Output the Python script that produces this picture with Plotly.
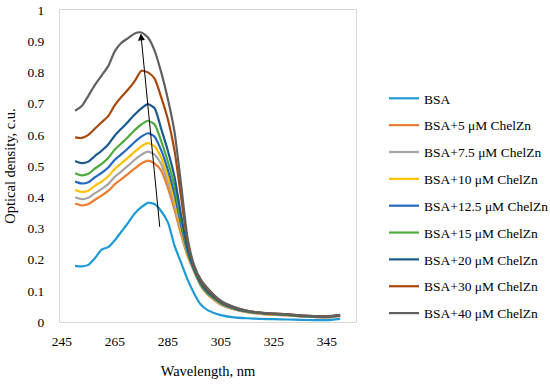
import plotly.graph_objects as go

wavelength = [250, 252.5, 255, 257.5, 260, 262.5, 265, 267.5, 270, 272.5, 275, 277.5, 280,
              282.5, 285, 287.5, 290, 292.5, 295, 297.5, 300, 305, 310, 315, 320, 325, 330,
              335, 340, 345, 350]

bsa = [0.180, 0.178, 0.183, 0.205, 0.232, 0.240, 0.262, 0.290, 0.318, 0.348, 0.368, 0.382, 0.378,
       0.355, 0.320, 0.245, 0.190, 0.135, 0.090, 0.055, 0.038, 0.022, 0.015, 0.012, 0.010, 0.009,
       0.008, 0.007, 0.006, 0.006, 0.010]
c5 = [0.380, 0.374, 0.378, 0.392, 0.405, 0.420, 0.442, 0.458, 0.475, 0.492, 0.508, 0.517, 0.508,
      0.485, 0.430, 0.360, 0.280, 0.210, 0.160, 0.115, 0.088, 0.055, 0.040, 0.031, 0.026, 0.023,
      0.021, 0.018, 0.016, 0.015, 0.019]
c7_5 = [0.400, 0.394, 0.398, 0.413, 0.426, 0.442, 0.466, 0.483, 0.501, 0.520, 0.536, 0.546, 0.536,
        0.506, 0.449, 0.377, 0.290, 0.214, 0.161, 0.117, 0.090, 0.057, 0.041, 0.032, 0.027, 0.024,
        0.022, 0.018, 0.016, 0.015, 0.020]
c10 = [0.423, 0.417, 0.421, 0.437, 0.450, 0.467, 0.491, 0.509, 0.527, 0.546, 0.563, 0.573, 0.563,
       0.526, 0.467, 0.393, 0.299, 0.217, 0.163, 0.118, 0.091, 0.058, 0.042, 0.032, 0.027, 0.024,
       0.022, 0.019, 0.017, 0.016, 0.020]
c12_5 = [0.450, 0.444, 0.448, 0.464, 0.478, 0.495, 0.520, 0.538, 0.557, 0.577, 0.594, 0.605, 0.594,
         0.550, 0.488, 0.411, 0.310, 0.221, 0.164, 0.119, 0.092, 0.060, 0.043, 0.033, 0.028, 0.025,
         0.023, 0.019, 0.017, 0.016, 0.021]
c15 = [0.477, 0.470, 0.475, 0.492, 0.507, 0.526, 0.553, 0.573, 0.593, 0.615, 0.633, 0.645, 0.633,
       0.580, 0.514, 0.435, 0.324, 0.226, 0.166, 0.121, 0.094, 0.061, 0.044, 0.034, 0.028, 0.025,
       0.023, 0.020, 0.018, 0.017, 0.021]
c20 = [0.516, 0.509, 0.514, 0.532, 0.549, 0.569, 0.598, 0.620, 0.642, 0.665, 0.685, 0.698, 0.685,
       0.619, 0.549, 0.466, 0.342, 0.232, 0.169, 0.125, 0.097, 0.063, 0.045, 0.035, 0.029, 0.026,
       0.024, 0.020, 0.018, 0.017, 0.022]
c30 = [0.592, 0.590, 0.600, 0.620, 0.640, 0.660, 0.695, 0.722, 0.745, 0.772, 0.805, 0.800, 0.780,
       0.720, 0.650, 0.550, 0.400, 0.255, 0.176, 0.132, 0.104, 0.066, 0.047, 0.036, 0.030, 0.027,
       0.025, 0.021, 0.019, 0.018, 0.022]
c40 = [0.677, 0.692, 0.725, 0.760, 0.790, 0.820, 0.868, 0.895, 0.910, 0.925, 0.928, 0.912, 0.870,
       0.800, 0.715, 0.610, 0.440, 0.265, 0.180, 0.135, 0.108, 0.068, 0.048, 0.036, 0.030, 0.027,
       0.025, 0.021, 0.019, 0.018, 0.023]

series_names = ["BSA", "BSA+5 μM ChelZn", "BSA+7.5 μM ChelZn", "BSA+10 μM ChelZn",
                "BSA+12.5 μM ChelZn", "BSA+15 μM ChelZn", "BSA+20 μM ChelZn",
                "BSA+30 μM ChelZn", "BSA+40 μM ChelZn"]
series_values = [bsa, c5, c7_5, c10, c12_5, c15, c20, c30, c40]
colors = ["#1E9AD6", "#ED7D31", "#A5A5A5", "#FFC000", "#2468C0", "#4EAA3C", "#1B5A8E",
          "#A8480E", "#606060"]

x_ticks = [245, 265, 285, 305, 325, 345]
y_ticks = [0, 0.1, 0.2, 0.3, 0.4, 0.5, 0.6, 0.7, 0.8, 0.9, 1]
y_tick_labels = ["0", "0.1", "0.2", "0.3", "0.4", "0.5", "0.6", "0.7", "0.8", "0.9", "1"]

FONT = "Liberation Serif"

fig = go.Figure()
for i, (name, vals, col) in enumerate(zip(series_names, series_values, colors)):
    fig.add_trace(go.Scatter(
        x=wavelength, y=vals, mode="lines", name=name,
        line=dict(color=col, width=2.2, shape="spline", smoothing=0.6),
        legendgroup=f"g{i}",
    ))

# arrow showing the trend
fig.add_annotation(
    x=274.8, y=0.925, ax=282.0, ay=0.30, xref="x", yref="y", axref="x", ayref="y",
    showarrow=True, arrowhead=2, arrowsize=1.4, arrowwidth=1, arrowcolor="black", text="",
)

fig.update_layout(
    width=550, height=384,
    margin=dict(l=60, r=194, t=10, b=62, autoexpand=False),
    paper_bgcolor="white", plot_bgcolor="white",
    font=dict(family=FONT, size=13.5, color="black"),
    showlegend=True,
    legend=dict(x=1.0946, y=0.766, xanchor="left", yanchor="top", tracegroupgap=6.3,
                font=dict(family=FONT, size=13.5, color="black"), bgcolor="rgba(0,0,0,0)"),
    xaxis=dict(range=[244.3, 356], tickvals=x_ticks, ticktext=[str(v) for v in x_ticks],
               showgrid=False, zeroline=False, showline=True, linecolor="#D9D9D9", linewidth=1,
               mirror=True, ticks="", ticklabelstandoff=7,
               title=dict(text="Wavelength, nm", standoff=17,
                          font=dict(family=FONT, size=14.5))),
    yaxis=dict(range=[0, 1], tickvals=y_ticks, ticktext=y_tick_labels,
               showgrid=False, zeroline=False, showline=True, linecolor="#D9D9D9", linewidth=1,
               mirror=True, ticks="", ticklabelstandoff=12,
               title=dict(text="Optical density, c.u.", standoff=8,
                          font=dict(family=FONT, size=14.5))),
)

# remove the browser's default page margin so the figure sits at the window's top-left corner
fig.write_html("out.html", config={"displayModeBar": False},
               post_script="document.body.style.margin='0';")
